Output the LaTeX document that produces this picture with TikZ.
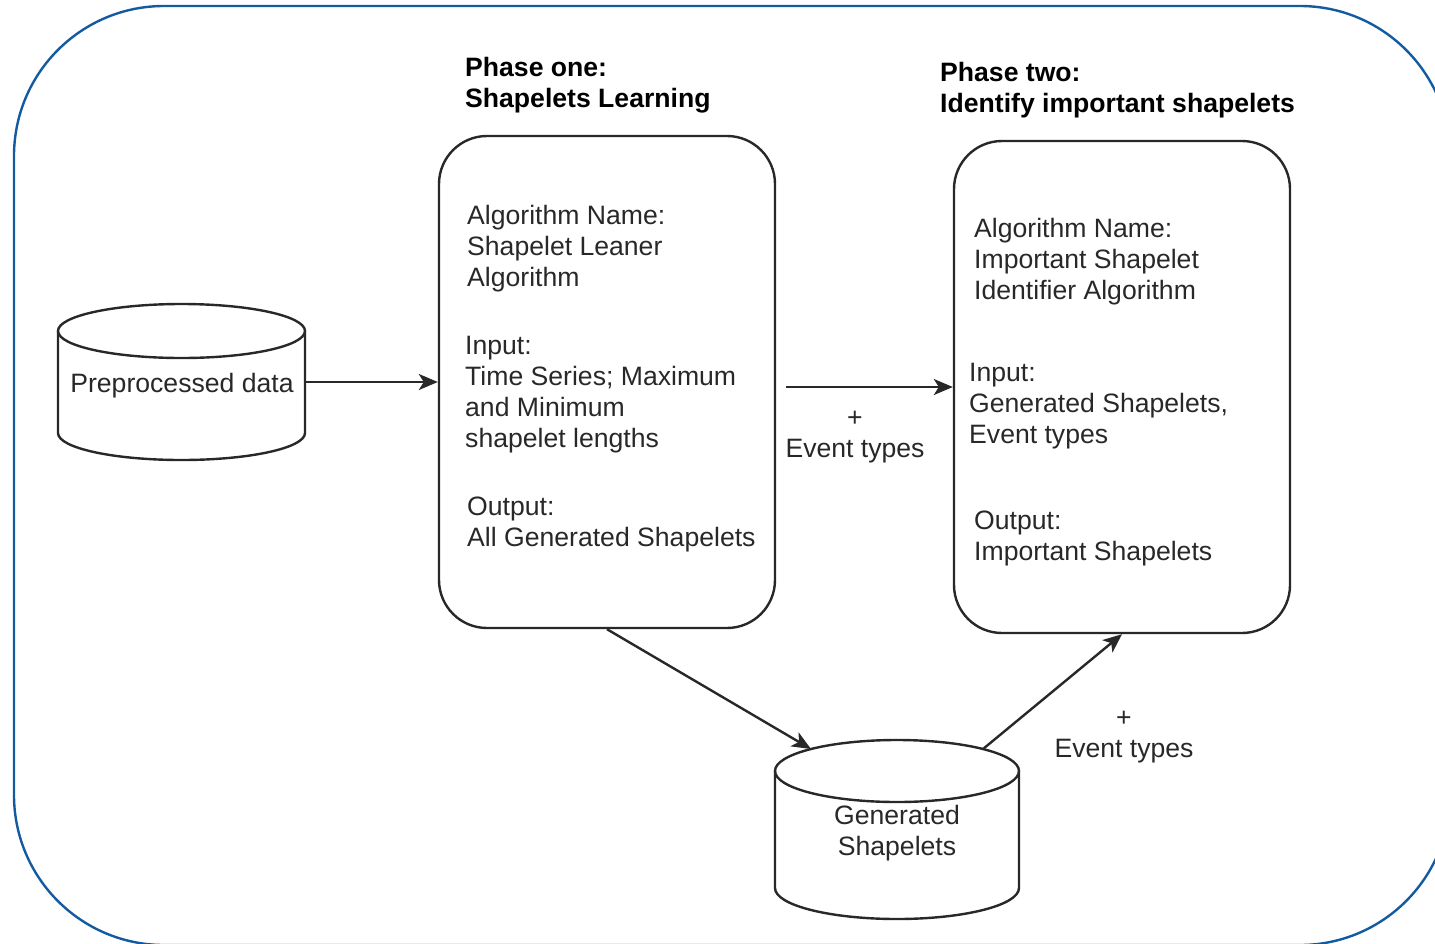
\documentclass[tikz,border=0pt]{standalone}
\usepackage{fontspec}
\setmainfont{Liberation Sans}
\usetikzlibrary{arrows.meta}
\definecolor{frameblue}{RGB}{20,90,160}
\definecolor{ink}{RGB}{40,40,40}
\tikzset{
  txt/.style={inner sep=0pt, text=ink, font=\fontsize{26.6}{31}\selectfont, align=left},
  ttl/.style={inner sep=0pt, text=black, font=\fontsize{26.6}{31}\selectfont\bfseries, align=left},
  phasebox/.style={draw=ink, line width=2.4pt, rounded corners=48pt, minimum width=336pt, minimum height=492pt, inner sep=0pt},
  cylline/.style={draw=ink, line width=2.4pt},
  arr/.style={draw=ink, line width=2.4pt, -{Stealth[length=19pt,width=16pt,inset=5pt]}},
}
\begin{document}
\begin{tikzpicture}[x=1pt,y=-1pt]
\useasboundingbox (0,0) rectangle (1435,943);
\begin{scope}
  \clip (0,0) rectangle (1435,943);
  \draw[frameblue, line width=2.4pt, rounded corners=150pt] (14,6) rectangle (1450,945);
\end{scope}

% titles (anchor = baseline of last line)
\node[ttl, anchor=base west] (t1) at (465,107) {Phase one:\\Shapelets Learning};
\node[ttl, anchor=base west] (t2) at (940,112) {Phase two:\\Identify important shapelets};

% phase boxes
\node[phasebox] (box1) at (607,382) {};
\node[phasebox] (box2) at (1122,387) {};

% box1 text
\node[txt, anchor=base west] (b1a) at (467,286) {Algorithm Name:\\Shapelet Leaner\\Algorithm};
\node[txt, anchor=base west] (b1b) at (465,447) {Input:\\Time Series; Maximum\\and Minimum\\shapelet lengths};
\node[txt, anchor=base west] (b1c) at (467,546) {Output:\\All Generated Shapelets};

% box2 text
\node[txt, anchor=base west] (b2a) at (974,299) {Algorithm Name:\\Important Shapelet\\Identifier Algorithm};
\node[txt, anchor=base west] (b2b) at (969,443) {Input:\\Generated Shapelets,\\Event types};
\node[txt, anchor=base west] (b2c) at (974,560) {Output:\\Important Shapelets};

% cylinder 1
\draw[cylline, fill=white] (181.5,331) ellipse [x radius=123.5pt, y radius=27pt];
\draw[cylline] (58,331) -- (58,433) arc[start angle=180, end angle=360, x radius=123.5pt, y radius=27pt] -- (305,331);
\node[txt, minimum width=247pt, minimum height=156pt, align=center] (cyl1) at (181.5,382) {};
\node[txt, anchor=base] (cyl1t) at (182,392) {Preprocessed data};

% cylinder 2
\draw[cylline, fill=white] (897,771) ellipse [x radius=122pt, y radius=31pt];
\draw[cylline] (775,771) -- (775,888) arc[start angle=180, end angle=360, x radius=122pt, y radius=31pt] -- (1019,771);
\node[txt, align=center, anchor=base] (cyl2) at (897,855) {Generated\\Shapelets};
\coordinate (cyl2in) at (811,749);
\coordinate (cyl2out) at (983,749);

% connectors
\draw[arr] (cyl1.east) -- (box1.west);
\draw[arr] ([xshift=10pt]box2.west -| box1.east) -- (box2.west);
\draw[arr] (box1.south) -- (cyl2in);
\draw[arr] (cyl2out) -- (box2.south);

% labels
\node[txt, align=center, anchor=base] (l1) at (855,457) {+\\Event types};
\node[txt, align=center, anchor=base] (l2) at (1124,757) {+\\Event types};
\end{tikzpicture}
\end{document}
